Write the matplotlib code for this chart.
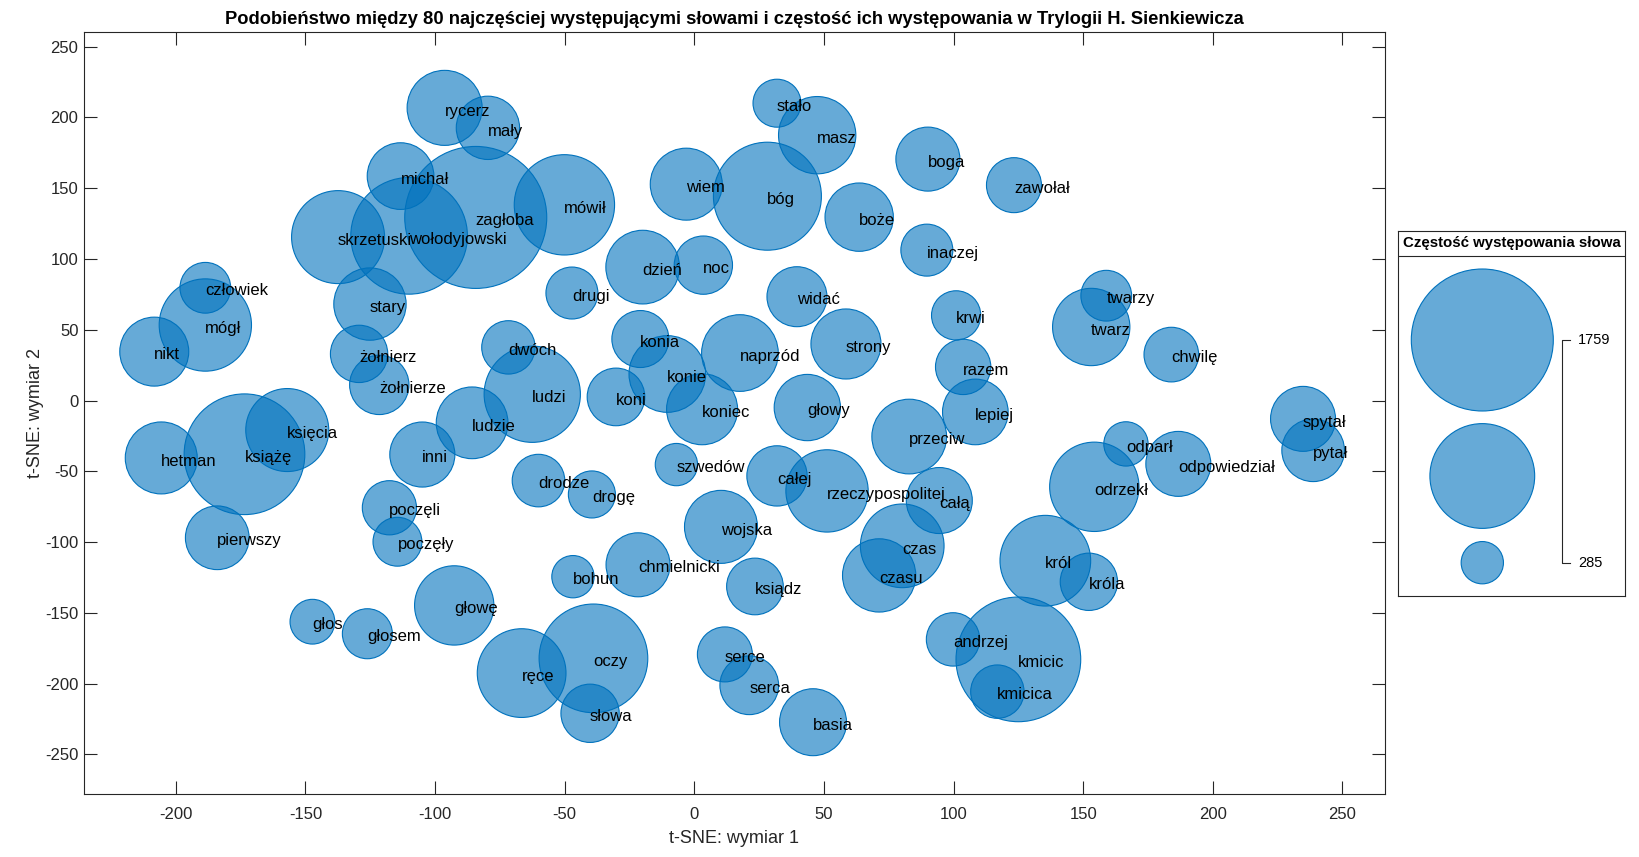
import numpy as np
import matplotlib
matplotlib.use("Agg")
import matplotlib.pyplot as plt
import matplotlib.transforms as mtransforms

plt.rcParams['font.family'] = ['Liberation Sans', 'DejaVu Sans']
plt.rcParams['axes.unicode_minus'] = False

words = ["rycerz", "mały", "michał", "zagłoba", "wołodyjowski", "skrzetuski", "człowiek", "mógł",
         "nikt", "stary", "żołnierz", "żołnierze", "dwóch", "mówił", "stało", "masz", "boga", "wiem",
         "bóg", "boże", "inaczej", "dzień", "noc", "drugi", "widać", "strony", "krwi", "konia",
         "naprzód", "konie", "ludzi", "koni", "koniec", "głowy", "twarzy", "twarz", "chwilę",
         "zawołał", "razem", "lepiej", "spytał", "pytał", "odparł", "odpowiedział", "odrzekł",
         "całą", "król", "króla", "andrzej", "kmicic", "kmicica", "przeciw", "szwedów", "drodze",
         "drogę", "całej", "rzeczypospolitej", "wojska", "czas", "czasu", "bohun", "chmielnicki",
         "ksiądz", "oczy", "ręce", "słowa", "serce", "serca", "basia", "hetman", "książę",
         "księcia", "inni", "ludzie", "poczęli", "poczęły", "pierwszy", "głos", "głosem", "głowę"]

tsne_x = [-96.3, -79.6, -113.3, -84.3, -110.0, -137.4, -188.6, -188.6,
          -208.3, -125.1, -129.3, -121.5, -71.7, -50.1, 31.9, 47.4, 90.1, -3.1,
          28.2, 63.6, 89.7, -19.9, 3.5, -47.2, 39.6, 58.5, 101.0, -20.8,
          17.6, -10.4, -62.5, -30.2, 3.0, 43.6, 158.9, 153.1, 184.0,
          123.3, 103.7, 108.4, 234.8, 238.7, 166.5, 186.7, 154.3,
          94.5, 135.4, 152.2, 99.8, 125.0, 116.9, 82.9, -6.9, -60.1,
          -39.5, 31.9, 51.2, 10.3, 80.2, 71.3, -46.8, -21.7,
          23.4, -38.9, -66.6, -40.2, 11.8, 21.2, 45.8, -205.6, -173.5,
          -157.0, -104.9, -85.7, -117.6, -114.5, -184.0, -147.3, -126.1, -92.6]

tsne_y = [206.8, 192.7, 158.6, 129.4, 116.4, 115.5, 79.7, 53.4,
          34.6, 68.2, 33.0, 11.1, 37.6, 138.3, 210.1, 187.5, 170.6, 152.9,
          144.4, 129.6, 106.3, 94.3, 95.7, 76.0, 73.4, 40.0, 60.2, 43.5,
          33.6, 18.8, 4.5, 2.6, -6.1, -4.9, 74.1, 52.0, 32.5,
          152.2, 23.8, -8.0, -12.9, -35.1, -30.6, -44.7, -60.9,
          -70.6, -113.1, -128.0, -168.7, -182.8, -205.6, -25.4, -45.2, -56.5,
          -66.3, -53.2, -63.8, -89.2, -102.6, -123.5, -124.4, -116.0,
          -131.3, -182.1, -192.5, -220.9, -179.3, -201.1, -227.2, -40.5, -37.9,
          -20.8, -38.1, -15.7, -75.7, -99.7, -96.9, -156.2, -164.7, -144.7]

freq = [593, 463, 498, 1759, 1233, 835, 348, 825,
        523, 561, 405, 424, 370, 949, 326, 621, 470, 557,
        1077, 516, 358, 577, 414, 358, 430, 535, 336, 402,
        613, 613, 885, 408, 546, 494, 348, 621, 381,
        384, 387, 487, 480, 456, 299, 480, 782,
        491, 801, 405, 370, 1389, 370, 589, 285, 363,
        319, 433, 685, 569, 703, 572, 285, 470,
        399, 1089, 773, 414, 384, 418, 501, 557, 1310,
        694, 481, 554, 377, 333, 467, 302, 342, 646]

title = "Podobieństwo między 80 najczęściej występującymi słowami i częstość ich występowania w Trylogii H. Sienkiewicza"
xlabel = "t-SNE: wymiar 1"
ylabel = "t-SNE: wymiar 2"
legend_title = "Częstość występowania słowa"

W, H, DPI = 1639, 857, 100
FACE = (0.0, 0.447, 0.741, 0.6)
EDGE = (0.0, 0.447, 0.741, 1.0)
AXC = (0.15, 0.15, 0.15)
DMIN, DMAX = 42.3, 142.0  # bubble diameter range in pixels

fmin, fmax = min(freq), max(freq)


def size_pt2(v):
    v = np.asarray(v, dtype=float)
    d2 = DMIN ** 2 + (v - fmin) / (fmax - fmin) * (DMAX ** 2 - DMIN ** 2)
    return d2 * (72.0 / DPI) ** 2


fig = plt.figure(figsize=(W / DPI, H / DPI), dpi=DPI)
ax = fig.add_axes([84 / W, (H - 794.4) / H, 1300.7 / W, (794.4 - 32) / H])
ax.scatter(tsne_x, tsne_y, s=size_pt2(freq), facecolor=FACE, edgecolor=EDGE, linewidth=0.8, zorder=2)
txt_off = mtransforms.offset_copy(ax.transData, fig=fig, x=0, y=-2.3, units='points')
for w, x, y in zip(words, tsne_x, tsne_y):
    ax.text(x, y, w, ha='left', va='center', fontsize=12, color='black', zorder=3,
            transform=txt_off)

ax.set_xlim(-235.4, 266.3)
ax.set_ylim(-278.2, 260.4)
ax.set_xticks(np.arange(-200, 251, 50))
ax.set_yticks(np.arange(-250, 251, 50))
ax.tick_params(direction='in', length=9.5, width=0.8, top=True, right=True, colors=AXC,
               labelsize=12)
ax.tick_params(axis='x', pad=9)
ax.tick_params(axis='y', pad=4)
for sp in ax.spines.values():
    sp.set_color(AXC)
    sp.set_linewidth(0.8)
ax.set_xlabel(xlabel, fontsize=13, color=AXC, labelpad=6)
ax.set_ylabel(ylabel, fontsize=13, color=AXC, labelpad=1)
ax.set_title(title, fontsize=13.2, fontweight='bold', color='black', pad=5.5)

# bubble legend
lw_, lh_ = 227.0, 365.3
lax = fig.add_axes([1398 / W, (H - 596) / H, lw_ / W, lh_ / H])
lax.set_xlim(0, lw_)
lax.set_ylim(lh_, 0)
lax.set_xticks([])
lax.set_yticks([])
for sp in lax.spines.values():
    sp.set_color(AXC)
    sp.set_linewidth(0.8)
leg_vals = [fmax, (fmin + fmax) / 2, fmin]
leg_y = [109.3, 245.3, 332.0]
lax.scatter([84.3] * 3, leg_y, s=size_pt2(leg_vals), facecolor=FACE, edgecolor=EDGE,
            linewidth=0.8, clip_on=False)
lax.plot([0, lw_], [25.3, 25.3], color=AXC, lw=0.8)
lax.text(lw_ / 2, 12.7, legend_title, ha='center', va='center', fontsize=10.8,
         fontweight='bold', color='black')
lax.plot([172, 163.7, 163.7, 172], [leg_y[0], leg_y[0], leg_y[2], leg_y[2]], color=AXC, lw=0.8)
lax.text(180.3, leg_y[0], str(int(fmax)), ha='left', va='center', fontsize=10.5, color='black')
lax.text(180.3, leg_y[2], str(int(fmin)), ha='left', va='center', fontsize=10.5, color='black')

fig.savefig("out.png", dpi=DPI)
